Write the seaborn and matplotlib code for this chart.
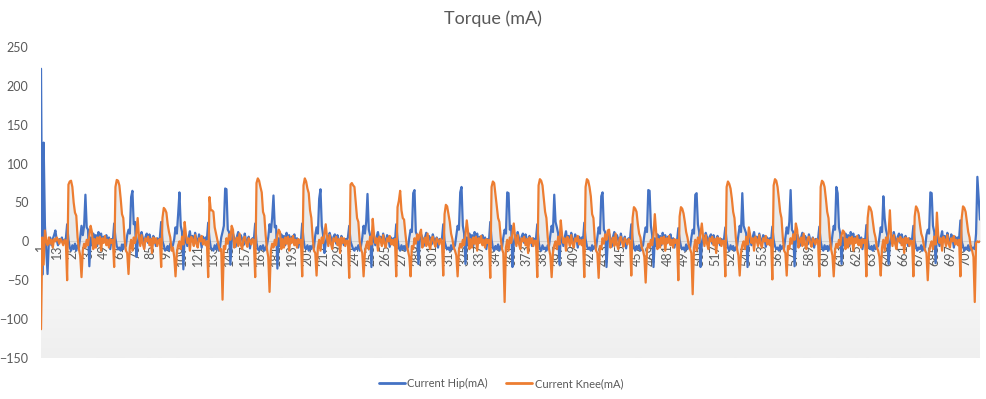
import numpy as np
import pandas as pd
import matplotlib
matplotlib.use("Agg")
import matplotlib.pyplot as plt
import seaborn as sns
from matplotlib.colors import LinearSegmentedColormap
from matplotlib.lines import Line2D

# DATA (one row per ~36-sample gait cycle)
hip_ma = [
    222, -43, 127, 20, -10, -42, 0, 5, -5, 3, 8, 14, 2, -5, 3, 0, 5, -3, 2,
    3, 22, 2, -8, -12, -5, -10, -3, -12, -5, -8, 5, 20, 8, 20, 60, 18, 15, -32, 5, -5, 10, 2, 8, -6, 12, 3, 10, -2, 6, 0, 8, -4, 5, -10, 3,
    0, 23, 4, -6, -10, -8, -12, -4, -10, -3, -6, 8, 15, 10, 57, 65, 22, 25, -20, -3, 8, 0, 12, 4, -8, 6, 10, -2, 9, 3, -5, 7, 1, -6, 4, 0,
    5, 25, 0, -5, -12, -10, -6, -12, -3, -8, -5, 3, 18, 10, 35, 63, 20, 12, -36, 8, 2, -6, 5, 13, 0, 7, -4, 11, 2, -3, 9, 4, -8, 6, -2, 5,
    2, 24, 3, -8, -10, -12, -5, -10, -3, -12, -8, 5, 12, 20, 68, 67, 15, 12, -30, 0, 10, 4, -7, 6, 12, -2, 8, 3, -5, 10, 1, -3, 6, -9, 2, 4,
    3, 23, -2, -10, -12, -6, -10, -5, -12, -8, -5, 5, 22, 12, 30, 59, 18, 20, -35, 4, -6, 9, 2, 7, -5, 11, 4, 8, -3, 6, 1, 9, -4, 4, -8, 2,
    0, 23, 2, -8, -10, -5, -12, -6, -10, -5, -8, 8, 18, 10, 55, 67, 20, 8, -15, -2, 7, 0, 11, 5, -7, 6, 9, -3, 8, 2, -6, 7, 0, -5, 3, 1,
    5, 20, 0, -5, -10, -12, -8, -10, -5, -12, -6, 5, 20, 10, 25, 61, 15, 8, -33, 7, 3, -5, 6, 12, 1, 6, -3, 10, 3, -4, 8, 5, -7, 5, -3, 4,
    0, 22, 3, -8, -12, -5, -10, -6, -12, -4, -8, 5, 15, 12, 62, 66, 12, 8, -29, 1, 9, 5, -6, 5, 11, -3, 7, 4, -4, 9, 2, -2, 5, -8, 3, 3,
    3, 22, 0, -6, -10, -8, -12, -5, -10, -8, -5, 8, 20, 15, 63, 70, 20, 10, -29, 5, -5, 10, 2, 8, -6, 12, 3, 10, -2, 6, 0, 8, -4, 5, -10, 3,
    0, 25, 2, -8, -12, -6, -10, -4, -12, -6, -8, 5, 15, 10, 63, 62, 15, 20, -33, -3, 8, 0, 12, 4, -8, 6, 10, -2, 9, 3, -5, 7, 1, -6, 4, 0,
    3, 22, 0, -10, -12, -5, -10, -8, -12, -5, -6, 8, 20, 12, 60, 25, 18, 10, -30, 8, 2, -6, 5, 13, 0, 7, -4, 11, 2, -3, 9, 4, -8, 6, -2, 5,
    0, 24, 3, -6, -10, -8, -12, -5, -10, -6, -8, 5, 18, 10, 58, 63, 15, 12, -33, 0, 10, 4, -7, 6, 12, -2, 8, 3, -5, 10, 1, -3, 6, -9, 2, 4,
    3, 22, 2, -8, -12, -6, -10, -5, -12, -8, -5, 8, 18, 12, 66, 65, 20, 8, -33, 4, -6, 9, 2, 7, -5, 11, 4, 8, -3, 6, 1, 9, -4, 4, -8, 2,
    0, 17, 2, -6, -10, -8, -12, -4, -10, -5, -8, 5, 15, 10, 60, 62, 22, 12, -33, -2, 7, 0, 11, 5, -7, 6, 9, -3, 8, 2, -6, 7, 0, -5, 3, 1,
    3, 18, 0, -8, -12, -5, -10, -6, -12, -8, -6, 8, 20, 12, 62, 20, 15, 10, -33, 7, 3, -5, 6, 12, 1, 6, -3, 10, 3, -4, 8, 5, -7, 5, -3, 4,
    0, 19, 2, -6, -10, -8, -12, -5, -10, -6, -8, 5, 18, 10, 25, 66, 15, 12, -32, 1, 9, 5, -6, 5, 11, -3, 7, 4, -4, 9, 2, -2, 5, -8, 3, 3,
    3, 19, 0, -8, -12, -5, -10, -6, -12, -5, -8, 8, 20, 15, 70, 62, 18, 10, -29, 5, -5, 10, 2, 8, -6, 12, 3, 10, -2, 6, 0, 8, -4, 5, -10, 3,
    0, 21, 2, -8, -10, -6, -12, -5, -10, -8, -6, 5, 18, 12, 58, 30, 15, 8, -29, -3, 8, 0, 12, 4, -8, 6, 10, -2, 9, 3, -5, 7, 1, -6, 4, 0,
    3, 20, 0, -6, -12, -8, -10, -5, -12, -6, -8, 8, 15, 10, 63, 62, 20, 12, -28, 8, 2, -6, 5, 13, 0, 7, -4, 11, 2, -3, 9, 4, -8, 6, -2, 5,
    3, 27, 0, -6, -12, -8, -10, -5, -12, -6, -10, -8, -10, 10, 83, 55, 28,
]

knee_ma = [
    -113, 5, -30, 14, 0, -5, 5, -3, 2, -8, 3, 0, 5, 2, -3, 3, 0, -5, 2,
    0, -50, 73, 77, 78, 70, 50, 37, 33, 5, -10, -18, -46, -12, -3, -8, 2, -5, 8, 20, 12, -10, 3, -8, 5, -3, 6, -12, 4, -2, 7, -5, 2, -8, 3, -2,
    2, -33, 70, 79, 78, 72, 55, 35, 30, 3, -12, -15, -42, -8, 2, -12, 5, -2, 10, 30, 5, -6, 8, -3, -10, 4, 0, 6, -5, 3, -15, 5, -2, 4, -6, 1,
    3, -33, 30, 43, 41, 37, 22, 12, 5, -12, -8, -20, -45, -15, -5, 0, -10, 6, -4, 25, 8, -2, 4, -12, 6, 2, -6, 8, -3, -8, 4, 0, 7, -4, 2, -5,
    0, -46, 57, 40, 40, 38, 18, 10, 2, -5, -12, -10, -75, -6, -10, 4, -3, 9, 2, 20, 15, -8, 0, 5, -6, 10, -4, -10, 3, 6, -2, -7, 4, 1, -4, 3,
    0, -46, 75, 81, 78, 70, 63, 38, 33, 8, -10, -20, -65, -12, -3, -8, 2, -5, 8, 15, 12, -10, 3, -8, 5, -3, 6, -12, 4, -2, 7, -5, 2, -8, 3, -2,
    2, -45, 72, 81, 77, 68, 62, 40, 30, 5, -12, -15, -44, -8, 2, -12, 5, -2, 10, 22, 5, -6, 8, -3, -10, 4, 0, 6, -5, 3, -15, 5, -2, 4, -6, 1,
    0, -47, 73, 75, 72, 70, 50, 30, 25, 0, -10, -15, -45, -15, -5, 0, -10, 6, -4, 29, 8, -2, 4, -12, 6, 2, -6, 8, -3, -8, 4, 0, 7, -4, 2, -5,
    3, -45, 44, 52, 65, 40, 30, 28, 10, -5, -12, -20, -45, -6, -10, 4, -3, 9, 2, 10, 15, -8, 0, 5, -6, 10, -4, -10, 3, 6, -2, -7, 4, 1, -4, 3,
    0, -44, 35, 47, 45, 35, 25, 10, 3, -8, -12, -18, -45, -12, -3, -8, 2, -5, 8, 27, 12, -10, 3, -8, 5, -3, 6, -12, 4, -2, 7, -5, 2, -8, 3, -2,
    2, -47, 70, 77, 75, 60, 45, 30, 25, 5, -10, -15, -78, -8, 2, -12, 5, -2, 10, 23, 5, -6, 8, -3, -10, 4, 0, 6, -5, 3, -15, 5, -2, 4, -6, 1,
    0, -46, 72, 80, 78, 72, 55, 38, 30, 5, -10, -18, -46, -15, -5, 0, -10, 6, -4, 27, 8, -2, 4, -12, 6, 2, -6, 8, -3, -8, 4, 0, 7, -4, 2, -5,
    2, -46, 70, 80, 78, 70, 58, 35, 30, 3, -12, -15, -47, -6, -10, 4, -3, 9, 2, 14, 15, -8, 0, 5, -6, 10, -4, -10, 3, 6, -2, -7, 4, 1, -4, 3,
    0, -44, 30, 44, 42, 38, 22, 10, 5, -8, -12, -20, -53, -12, -3, -8, 2, -5, 8, 35, 12, -10, 3, -8, 5, -3, 6, -12, 4, -2, 7, -5, 2, -8, 3, -2,
    2, -50, 32, 44, 42, 36, 25, 12, 5, -5, -10, -15, -68, -8, 2, -12, 5, -2, 10, 23, 5, -6, 8, -3, -10, 4, 0, 6, -5, 3, -15, 5, -2, 4, -6, 1,
    0, -45, 70, 77, 74, 68, 55, 38, 30, 5, -10, -18, -44, -15, -5, 0, -10, 6, -4, 18, 8, -2, 4, -12, 6, 2, -6, 8, -3, -8, 4, 0, 7, -4, 2, -5,
    2, -49, 72, 80, 78, 70, 55, 38, 30, 5, -12, -15, -44, -6, -10, 4, -3, 9, 2, 23, 15, -8, 0, 5, -6, 10, -4, -10, 3, 6, -2, -7, 4, 1, -4, 3,
    0, -45, 70, 78, 76, 70, 55, 38, 30, 5, -10, -18, -45, -12, -3, -8, 2, -5, 8, 14, 12, -10, 3, -8, 5, -3, 6, -12, 4, -2, 7, -5, 2, -8, 3, -2,
    2, -45, 30, 45, 43, 38, 25, 12, 5, -8, -12, -20, -44, -8, 2, -12, 5, -2, 10, 40, 5, -6, 8, -3, -10, 4, 0, 6, -5, 3, -15, 5, -2, 4, -6, 1,
    0, -45, 32, 45, 42, 36, 22, 10, 5, -5, -12, -15, -50, -15, -5, 0, -10, 6, -4, 37, 8, -2, 4, -12, 6, 2, -6, 8, -3, -8, 4, 0, 7, -4, 2, -5,
    2, -45, 30, 45, 43, 38, 25, 12, 5, -8, -12, -20, -78, -2, 0, -1, 0,
]

samples = list(range(1, len(hip_ma) + 1))
tick_samples = list(range(1, len(samples) + 1, 12))
y_ticks = [-150, -100, -50, 0, 50, 100, 150, 200, 250]

series_names = ['Current Hip(mA)', 'Current Knee(mA)']
colors = ['#4472C4', '#ED7D31']
grey_txt = '#595959'

df = pd.DataFrame({'sample': samples, series_names[0]: hip_ma, series_names[1]: knee_ma})
long_df = df.melt(id_vars='sample', var_name='series', value_name='mA')

# PLOTTING
sns.set_style('white')
plt.rcParams['font.family'] = ['Lato', 'DejaVu Sans']

fig = plt.figure(figsize=(9.86, 3.99), dpi=100)
ax = fig.add_axes([0.0416, 0.1028, 0.9523, 0.7794])

# plot-area gradient (white top -> light grey bottom)
grad = LinearSegmentedColormap.from_list('bg', ['#ffffff', '#ffffff', '#efefef'])
ax.imshow(np.linspace(0, 1, 256).reshape(-1, 1), cmap=grad, aspect='auto',
          extent=[0, 1, 0, 1], transform=ax.transAxes, zorder=0)

# soft grey shading between each trace and zero
for name in series_names:
    ax.fill_between(df['sample'], df[name], 0, color='#c8c8c8', alpha=0.35, lw=0, zorder=1)

sns.lineplot(data=long_df, x='sample', y='mA', hue='series', palette=colors,
             linewidth=1.6, ax=ax, legend=False, zorder=3)

ax.set_xlim(1, len(samples))
ax.set_ylim(-150, 250)
ax.set_xlabel('')
ax.set_ylabel('')

# category axis crosses at zero, as in the original
ax.spines['bottom'].set_position(('data', 0))
ax.spines['bottom'].set_color('#d0d0d0')
ax.spines['bottom'].set_linewidth(0.8)
ax.spines['bottom'].set_zorder(2)
for s in ['top', 'right', 'left']:
    ax.spines[s].set_visible(False)

ax.set_yticks(y_ticks)
ax.set_xticks(tick_samples)
ax.set_xticklabels([str(t) for t in tick_samples])
ax.tick_params(axis='x', length=0, pad=2, labelsize=9, labelcolor=grey_txt, labelrotation=90)
ax.tick_params(axis='y', length=0, pad=9, labelsize=9, labelcolor=grey_txt)

fig.text(0.5, 0.952, 'Torque (mA)', ha='center', va='center', fontsize=13, color=grey_txt)

handles = [Line2D([0], [0], color=c, lw=2) for c in colors]
fig.legend(handles, series_names, loc='center', bbox_to_anchor=(0.508, 0.038), ncol=2,
           frameon=False, fontsize=8, handlelength=2.35, columnspacing=1.6,
           handletextpad=0.25, labelcolor=grey_txt)

fig.savefig('out.png', dpi=100)
